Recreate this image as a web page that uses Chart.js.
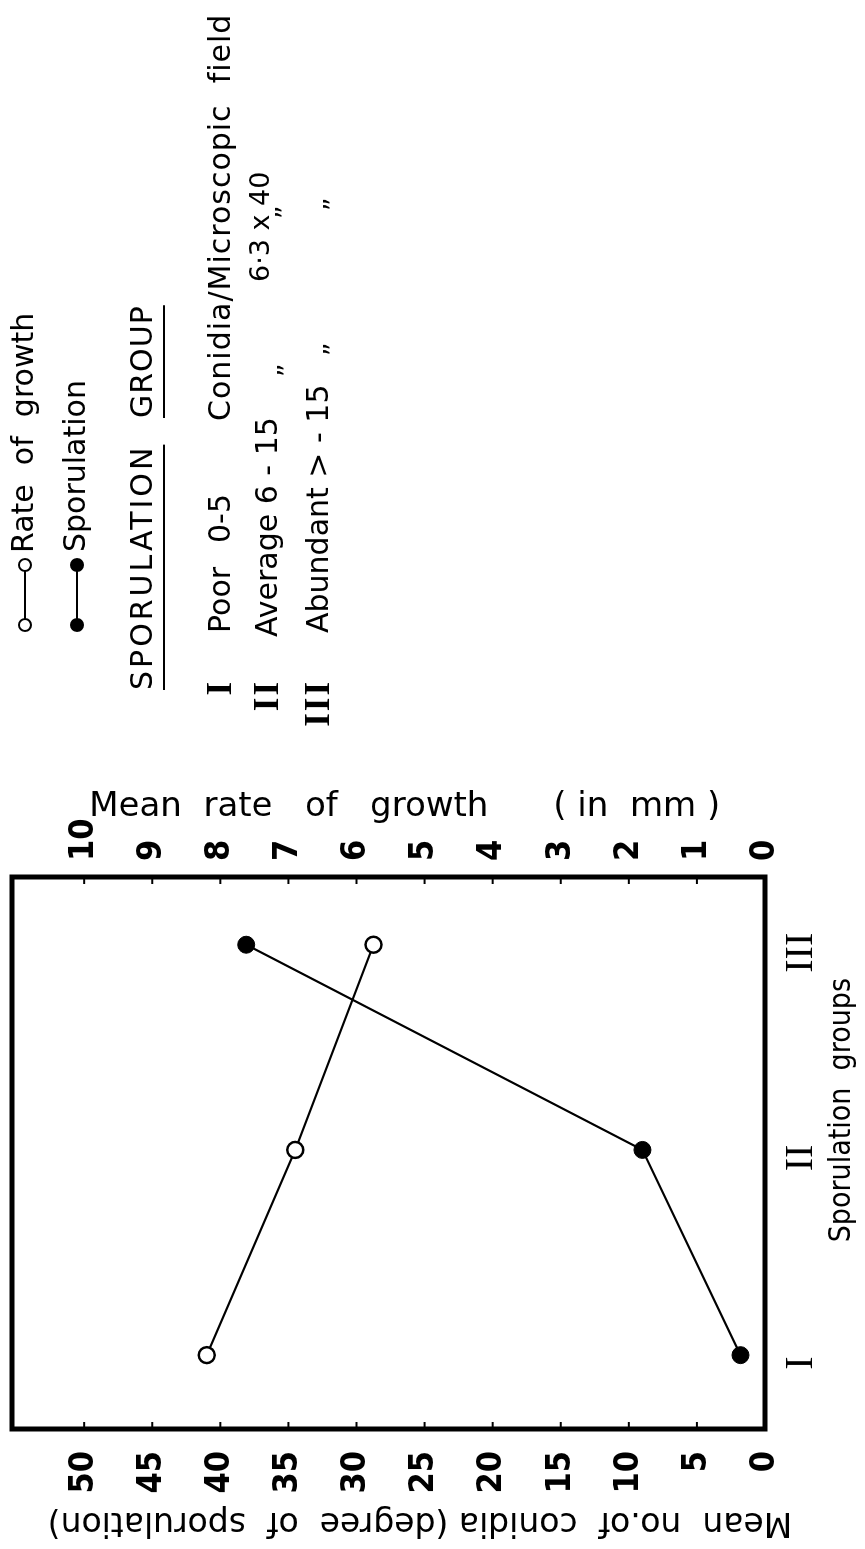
<!DOCTYPE html>
<html lang="en">
<head>
<meta charset="UTF-8">
<title>Sporulation groups</title>
<style>
  html, body { margin: 0; padding: 0; background: #fff; overflow: hidden; }
  /* chart is drawn landscape, then turned a quarter left like the scanned figure */
  #wrap { position: absolute; left: 0; top: 0; width: 1549px; height: 865px;
          transform-origin: 0 0; transform: translate(0, 1549px) rotate(-90deg); }
</style>
</head>
<body>
<div id="wrap"><canvas id="chart" width="1549" height="865"></canvas></div>

<script src="https://cdn.jsdelivr.net/npm/chart.js@4.4.0/dist/chart.umd.min.js"></script>
<script>
const groups = ['I', 'II', 'III'];
const groupPos = [1, 2, 3];
const sporulation = [1.8, 9.0, 38.1];   // mean no. of conidia
const growthRate = [8.2, 6.9, 5.75];    // mean rate of growth, mm
const conidiaTicks = [0, 5, 10, 15, 20, 25, 30, 35, 40, 45, 50];
const growthTicks = [0, 1, 2, 3, 4, 5, 6, 7, 8, 9, 10];

const SANS = '"DejaVu Sans", sans-serif';
const COND = '"DejaVu Sans Condensed", "Liberation Sans Narrow", "DejaVu Sans", sans-serif';
const SERIF = '"Liberation Serif", "DejaVu Serif", serif';

Chart.defaults.color = '#000';

// fixed axis boxes, no extra room for end labels
function fixWidth(w) {
  return s => { s.width = w; s.paddingTop = 0; s.paddingBottom = 0; };
}

// frame, inward tick marks and the key text on the right
const decor = {
  id: 'decor',
  afterDraw(chart) {
    const ctx = chart.ctx;
    const a = chart.chartArea;
    const y = chart.scales.y, y2 = chart.scales.y2;
    ctx.save();
    ctx.strokeStyle = '#000';
    ctx.lineWidth = 2;
    conidiaTicks.forEach(v => {
      const p = y.getPixelForValue(v);
      ctx.beginPath(); ctx.moveTo(a.left, p); ctx.lineTo(a.left + 7, p); ctx.stroke();
    });
    growthTicks.forEach(v => {
      const p = y2.getPixelForValue(v);
      ctx.beginPath(); ctx.moveTo(a.right, p); ctx.lineTo(a.right - 7, p); ctx.stroke();
    });
    ctx.lineWidth = 5;
    ctx.strokeRect(a.left, a.top, a.right - a.left, a.bottom - a.top);

    // key
    ctx.fillStyle = '#000';
    ctx.textBaseline = 'middle';
    ctx.textAlign = 'left';
    ctx.lineWidth = 2;
    function pair(yy, filled) {
      ctx.beginPath(); ctx.moveTo(924, yy); ctx.lineTo(984, yy); ctx.stroke();
      [924, 984].forEach(xx => {
        ctx.beginPath(); ctx.arc(xx, yy, 6, 0, Math.PI * 2);
        ctx.fillStyle = filled ? '#000' : '#fff';
        ctx.fill(); ctx.stroke();
      });
      ctx.fillStyle = '#000';
    }
    pair(25, false);
    pair(77, true);
    ctx.font = '30px ' + SANS;
    ctx.fillText('Rate  of  growth', 996, 25);
    ctx.fillText('Sporulation', 997, 77);

    ctx.letterSpacing = '3px';
    ctx.fillText('SPORULATION', 859, 144);
    const w1 = ctx.measureText('SPORULATION').width;
    ctx.letterSpacing = '1px';
    ctx.fillText('GROUP', 1131, 144);
    const w2 = ctx.measureText('GROUP').width;
    ctx.beginPath();
    ctx.moveTo(859, 164); ctx.lineTo(859 + w1, 164);
    ctx.moveTo(1131, 164); ctx.lineTo(1131 + w2, 164);
    ctx.stroke();

    ctx.letterSpacing = '0px';
    ctx.fillText('Poor', 916, 222);
    ctx.fillText('0-5', 1006, 222);
    ctx.letterSpacing = '1px';
    ctx.fillText('Conidia/Microscopic  field', 1128, 222);
    ctx.letterSpacing = '0px';
    ctx.fillText('Average 6 - 15', 912, 269);
    ctx.fillText('Abundant > - 15', 916, 320);
    ctx.font = '27px ' + SANS;
    ctx.fillText('6\u00b73 x 40', 1267, 262);
    ctx.font = '26px ' + SANS;
    ctx.fillText('\u201d', 1172, 290);
    ctx.fillText('\u201d', 1330, 288);
    ctx.fillText('\u201d', 1193, 336);
    ctx.fillText('\u201d', 1338, 336);

    ctx.font = 'bold 35px ' + SERIF;
    ctx.letterSpacing = '2px';
    ctx.textAlign = 'right';
    ctx.fillText('I', 869, 222);
    ctx.fillText('II', 869, 269);
    ctx.fillText('III', 869, 320);
    ctx.restore();
  }
};

new Chart(document.getElementById('chart'), {
  type: 'line',
  data: {
    datasets: [
      {
        label: 'Rate of growth',
        data: groupPos.map((g, i) => ({ x: g, y: growthRate[i] })),
        yAxisID: 'y2',
        borderColor: '#000',
        borderWidth: 2.2,
        pointRadius: 8,
        pointBackgroundColor: '#fff',
        pointBorderColor: '#000',
        pointBorderWidth: 2.5
      },
      {
        label: 'Sporulation',
        data: groupPos.map((g, i) => ({ x: g, y: sporulation[i] })),
        yAxisID: 'y',
        borderColor: '#000',
        borderWidth: 2.2,
        pointRadius: 8.5,
        pointBackgroundColor: '#000',
        pointBorderColor: '#000',
        pointBorderWidth: 1
      }
    ]
  },
  options: {
    responsive: false,
    animation: false,
    events: [],
    layout: { autoPadding: false, padding: { top: 12, right: 787, left: 0, bottom: 0 } },
    plugins: { legend: { display: false }, tooltip: { enabled: false } },
    scales: {
      x: {
        type: 'linear',
        position: 'bottom',
        min: 0.64,
        max: 3.33,
        afterBuildTicks: s => { s.ticks = groupPos.map(v => ({ value: v })); },
        afterFit: s => { s.height = 100; s.paddingLeft = 0; s.paddingRight = 0; },
        grid: { display: false },
        border: { display: false },
        ticks: {
          callback: v => groups[groupPos.indexOf(v)],
          font: { family: SERIF, size: 40 },
          padding: 4,
          labelOffset: -8,
          maxRotation: 0
        },
        title: {
          display: true,
          text: '          Sporulation  groups',
          font: { family: COND, size: 30 },
          padding: { top: 0, bottom: 5 }
        }
      },
      y: {
        position: 'left',
        min: 0,
        max: 55.3,
        afterBuildTicks: s => { s.ticks = conidiaTicks.map(v => ({ value: v })); },
        afterFit: fixWidth(120),
        grid: { display: false },
        border: { display: false },
        ticks: { font: { family: COND, size: 34, weight: 'bold' }, padding: 14 },
        title: {
          display: true,
          text: 'Mean  no.of  conidia (degree  of  sporulation)      ',
          font: { family: SANS, size: 33 },
          padding: { top: 8, bottom: 0 }
        }
      },
      y2: {
        position: 'right',
        min: 0,
        max: 11.06,
        afterBuildTicks: s => { s.ticks = growthTicks.map(v => ({ value: v })); },
        afterFit: fixWidth(90),
        grid: { display: false },
        border: { display: false },
        ticks: { font: { family: COND, size: 34, weight: 'bold' }, padding: 8 },
        title: {
          display: true,
          text: '   Mean  rate   of   growth      ( in  mm )',
          font: { family: SANS, size: 34 },
          padding: { top: 0, bottom: 0 }
        }
      }
    }
  },
  plugins: [decor]
});
</script>
</body>
</html>
